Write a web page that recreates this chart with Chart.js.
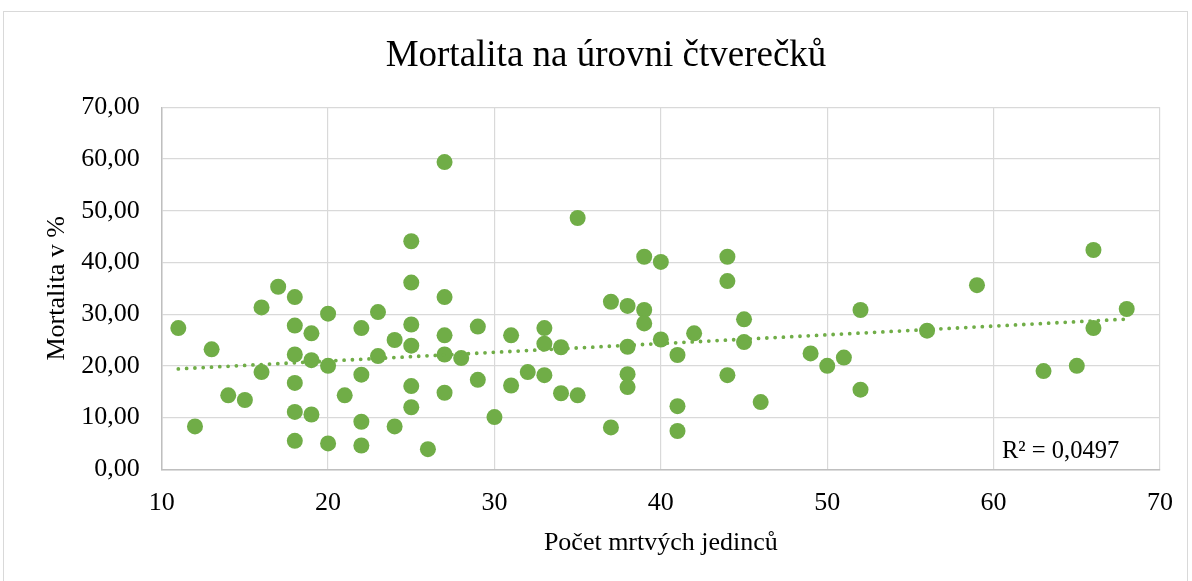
<!DOCTYPE html>
<html>
<head>
<meta charset="utf-8">
<script src="https://cdn.jsdelivr.net/npm/chart.js@4/dist/chart.umd.min.js"></script>
<style>
  html, body { margin: 0; padding: 0; background: #ffffff; }
  #wrap { width: 1192px; height: 581px; position: relative; }
</style>
</head>
<body>
<div id="wrap"><canvas id="c" width="1192" height="581"></canvas></div>
<script>
const chartTitle = 'Mortalita na úrovni čtverečků';
const xAxisTitle = 'Počet mrtvých jedinců';
const yAxisTitle = 'Mortalita v %';
const r2Label = 'R² = 0,0497';

const deadCount = [11,12,13,14,15,16,16,17,18,18,18,18,18,18,19,19,19,20,20,20,21,22,22,22,22,23,23,24,24,25,25,25,25,25,25,26,27,27,27,27,27,28,29,29,30,31,31,32,33,33,33,34,34,35,35,37,37,38,38,38,38,39,39,39,40,40,41,41,41,42,44,44,44,45,45,46,49,50,51,52,52,56,59,63,65,66,66,68];
const mortality = [27.3,8.3,23.2,14.3,13.4,31.3,18.8,35.3,33.3,27.8,22.2,16.7,11.1,5.5,26.3,21.1,10.6,30.1,20.0,5.0,14.3,27.3,18.3,9.2,4.6,30.4,21.9,25.0,8.3,44.1,36.1,28.0,23.9,16.1,12.0,3.9,59.4,33.3,25.9,22.2,14.8,21.5,27.6,17.3,10.1,25.9,16.2,18.8,27.3,24.3,18.2,23.6,14.7,48.6,14.3,32.4,8.1,31.6,23.7,18.4,15.9,41.1,30.8,28.2,40.1,25.1,22.1,12.2,7.4,26.3,41.1,36.4,18.2,29.0,24.6,13.0,22.4,20.0,21.6,30.8,15.4,26.8,35.6,19.0,20.0,42.4,27.3,31.0];

const xTicks = [10,20,30,40,50,60,70];
const yTicks = [0,10,20,30,40,50,60,70];

// linear regression trendline
const n = deadCount.length;
const mx = deadCount.reduce((a,b)=>a+b,0)/n;
const my = mortality.reduce((a,b)=>a+b,0)/n;
let sxy = 0, sxx = 0;
for (let i = 0; i < n; i++) { sxy += (deadCount[i]-mx)*(mortality[i]-my); sxx += (deadCount[i]-mx)**2; }
const slope = sxy/sxx, intercept = my - slope*mx;
const xmin = Math.min(...deadCount), xmax = Math.max(...deadCount);

const points = deadCount.map((x,i)=>({x:x, y:mortality[i]}));
const trend = [{x:xmin, y:intercept+slope*xmin},{x:xmax, y:intercept+slope*xmax}];

const FONT = "'Liberation Serif', 'Times New Roman', serif";
const GREEN = '#70ad47';

const decor = {
  id: 'decor',
  beforeDraw(chart) {
    const ctx = chart.ctx;
    ctx.save();
    ctx.fillStyle = '#ffffff';
    ctx.fillRect(0,0,chart.width,chart.height);
    ctx.strokeStyle = '#d9d9d9';
    ctx.lineWidth = 1;
    ctx.strokeRect(3.5, 11.5, 1184, 600);
    ctx.restore();
  },
  afterDraw(chart) {
    const ctx = chart.ctx;
    ctx.save();
    ctx.font = '24.5px ' + FONT;
    ctx.fillStyle = '#000000';
    ctx.textAlign = 'left';
    ctx.textBaseline = 'alphabetic';
    ctx.fillText(r2Label, 1002, 458);
    ctx.restore();
  }
};

new Chart(document.getElementById('c'), {
  type: 'scatter',
  data: {
    datasets: [
      {
        type: 'line',
        data: trend,
        borderColor: GREEN,
        borderWidth: 3.8,
        borderDash: [0, 8.3],
        borderCapStyle: 'round',
        pointRadius: 0,
        fill: false,
        order: 0
      },
      {
        data: points,
        backgroundColor: GREEN,
        borderColor: GREEN,
        borderWidth: 0,
        pointRadius: 8,
        order: 1
      }
    ]
  },
  options: {
    responsive: false,
    animation: false,
    events: [],
    layout: { padding: { left: 52, right: 32, top: 0, bottom: 0 } },
    plugins: {
      legend: { display: false },
      tooltip: { enabled: false },
      title: {
        display: true,
        text: chartTitle,
        color: '#000000',
        font: { family: FONT, size: 37, weight: 'normal', lineHeight: 1.2 },
        padding: { top: 34, bottom: 28.9 }
      }
    },
    scales: {
      x: {
        type: 'linear',
        min: xTicks[0], max: xTicks[xTicks.length-1],
        afterBuildTicks(scale) { scale.ticks = xTicks.map(v=>({value:v})); },
        afterFit(scale) { scale.height = 581 - 469.3; },
        ticks: { color: '#000000', font: { family: FONT, size: 26 }, padding: 18, maxRotation: 0 },
        grid: { color: '#d9d9d9', lineWidth: 1.2, drawTicks: false },
        border: { color: '#bfbfbf', width: 1.5 },
        title: { display: true, text: xAxisTitle, color: '#000000', font: { family: FONT, size: 26, lineHeight: 1.2 }, padding: { top: 0, bottom: 22 } }
      },
      y: {
        type: 'linear',
        min: yTicks[0], max: yTicks[yTicks.length-1],
        afterBuildTicks(scale) { scale.ticks = yTicks.map(v=>({value:v})); },
        afterFit(scale) { scale.width = 161.7 - 52; },
        ticks: { color: '#000000', font: { family: FONT, size: 26 }, padding: 22,
          callback: v => v.toFixed(2).replace('.', ',') },
        grid: { color: '#d9d9d9', lineWidth: 1.2, drawTicks: false },
        border: { color: '#bfbfbf', width: 1.5 },
        title: { display: true, text: yAxisTitle, color: '#000000', font: { family: FONT, size: 26, lineHeight: 1.2 }, padding: { top: -10, bottom: 0 } }
      }
    }
  },
  plugins: [decor]
});
</script>
</body>
</html>
